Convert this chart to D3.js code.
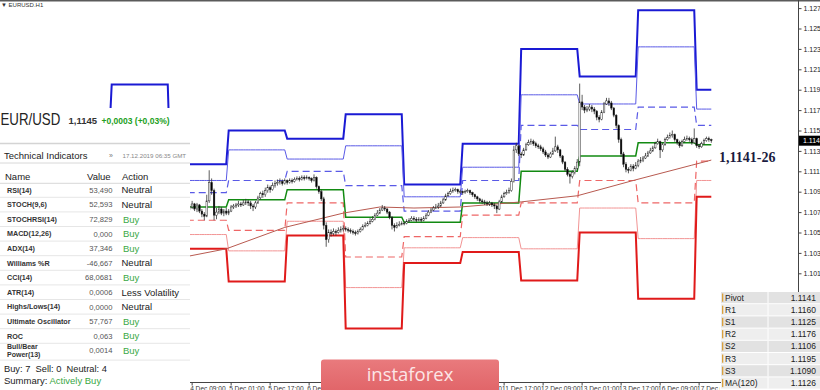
<!DOCTYPE html>
<html>
<head>
<meta charset="utf-8">
<title>EURUSD H1</title>
<script src="https://d3js.org/d3.v7.min.js"></script>
<style>
    body { margin: 0; background: #fff; }
    svg { display: block; font-family: "Liberation Sans", Arial, sans-serif; }
</style>
</head>
<body>
<svg id="chart" width="820" height="390"></svg>
<script>
// Trading days shown (H1 bars, 24 per day) and their daily pivot levels
var days = ["2 Dec", "3 Dec", "4 Dec", "5 Dec", "6 Dec", "9 Dec", "10 Dec", "11 Dec", "12 Dec", "13 Dec", "16 Dec", "17 Dec"];
var r3 = [1.1150, 1.1200, 1.1122, 1.1155, 1.1147, 1.1171, 1.1102, 1.1142, 1.1235, 1.1208, 1.1273, 1.1195];
var r2 = [1.1128, 1.1165, 1.1106, 1.1136, 1.1127, 1.1140, 1.1090, 1.1119, 1.1190, 1.1181, 1.1237, 1.1176];
var r1 = [1.1110, 1.1130, 1.1094, 1.1106, 1.1115, 1.1101, 1.1076, 1.1106, 1.1160, 1.1156, 1.1178, 1.1160];
var pivot = [1.1090, 1.1098, 1.1080, 1.1087, 1.1097, 1.1070, 1.1065, 1.1084, 1.1115, 1.1130, 1.1143, 1.1141];
var s1 = [1.1072, 1.1063, 1.1067, 1.1057, 1.1084, 1.1031, 1.1051, 1.1072, 1.1084, 1.1106, 1.1084, 1.1125];
var s2 = [1.1050, 1.1031, 1.1053, 1.1037, 1.1066, 1.1001, 1.1040, 1.1050, 1.1039, 1.1079, 1.1049, 1.1106];
var s3 = [1.1032, 1.0996, 1.1039, 1.1007, 1.1052, 1.0961, 1.1025, 1.1036, 1.1008, 1.1055, 1.0990, 1.1090];
var barsPerDay = 24;
var lastBar = 270;      // 17 Dec 06:00
var firstCandle = 56;   // 4 Dec 08:00

// Candles from 4 Dec 08:00, one line per day
var opens = [
    1.1079,1.1080,1.1083,1.1078,1.1082,1.1076,1.1073,1.1071,1.1086,1.1104,1.1096,1.1072,1.1075,1.1078,1.1074,1.1076,
    1.1074,1.1076,1.1080,1.1081,1.1082,1.1083,1.1082,1.1084,1.1085,1.1084,1.1081,1.1080,1.1084,1.1089,1.1093,1.1092,1.1096,1.1099,1.1097,1.1101,1.1103,1.1104,1.1105,1.1103,
    1.1106,1.1104,1.1106,1.1105,1.1107,1.1108,1.1107,1.1109,1.1108,1.1109,1.1108,1.1106,1.1109,1.1100,1.1095,1.1088,1.1062,1.1048,1.1055,1.1054,1.1056,1.1055,1.1057,1.1058,
    1.1059,1.1058,1.1057,1.1056,1.1055,1.1054,1.1056,1.1058,1.1061,1.1062,1.1064,1.1066,1.1068,1.1072,1.1074,1.1077,1.1079,1.1078,1.1075,1.1070,1.1062,1.1060,1.1062,1.1063,
    1.1064,1.1064,1.1066,1.1067,1.1069,1.1068,1.1067,1.1068,1.1067,1.1069,1.1072,1.1075,1.1077,1.1079,1.1080,1.1081,1.1084,1.1087,1.1091,1.1093,1.1095,1.1096,1.1097,1.1095,
    1.1095,1.1094,1.1095,1.1096,1.1094,1.1092,1.1090,1.1088,1.1086,1.1085,1.1084,1.1083,1.1084,1.1082,1.1081,1.1078,1.1085,1.1090,1.1093,1.1094,1.1096,1.1105,1.1136,1.1140,
    1.1132,1.1131,1.1136,1.1141,1.1143,1.1144,1.1142,1.1140,1.1139,1.1137,1.1134,1.1131,1.1129,1.1132,1.1135,1.1139,1.1136,1.1130,1.1124,1.1117,1.1112,1.1110,1.1114,1.1118,
    1.1124,1.1183,1.1178,1.1175,1.1176,1.1178,1.1176,1.1174,1.1168,1.1166,1.1173,1.1181,1.1184,1.1182,1.1177,1.1170,1.1160,1.1146,1.1132,1.1122,1.1117,1.1116,1.1120,1.1118,
    1.1121,1.1125,1.1126,1.1128,1.1130,1.1133,1.1135,1.1138,1.1142,1.1144,1.1136,1.1141,1.1146,1.1148,1.1150,1.1151,1.1146,1.1143,1.1140,1.1144,1.1146,1.1147,1.1146,1.1143,
    1.1147,1.1140,1.1139,1.1142,1.1145,1.1147,1.1146
];
var highs = [
    1.1083,1.1086,1.1084,1.1084,1.1083,1.1078,1.1075,1.1092,1.1116,1.1108,1.1098,1.1079,1.1081,1.1080,1.1078,1.1079,
    1.1078,1.1082,1.1083,1.1084,1.1086,1.1085,1.1087,1.1088,1.1087,1.1086,1.1083,1.1086,1.1091,1.1095,1.1096,1.1099,1.1102,1.1101,1.1104,1.1106,1.1107,1.1108,1.1107,1.1108,
    1.1107,1.1108,1.1108,1.1109,1.1110,1.1110,1.1111,1.1111,1.1111,1.1110,1.1109,1.1112,1.1110,1.1101,1.1097,1.1090,1.1065,1.1058,1.1058,1.1059,1.1058,1.1060,1.1061,1.1062,
    1.1061,1.1060,1.1059,1.1058,1.1057,1.1058,1.1060,1.1063,1.1065,1.1066,1.1069,1.1071,1.1074,1.1077,1.1079,1.1082,1.1081,1.1079,1.1076,1.1071,1.1064,1.1065,1.1066,1.1066,
    1.1066,1.1068,1.1069,1.1071,1.1071,1.1070,1.1070,1.1070,1.1071,1.1074,1.1077,1.1079,1.1081,1.1083,1.1084,1.1086,1.1089,1.1093,1.1095,1.1098,1.1099,1.1099,1.1098,1.1097,
    1.1096,1.1097,1.1098,1.1097,1.1095,1.1093,1.1091,1.1089,1.1088,1.1087,1.1086,1.1086,1.1085,1.1084,1.1082,1.1087,1.1092,1.1095,1.1097,1.1099,1.1108,1.1140,1.1143,1.1141,
    1.1134,1.1138,1.1143,1.1146,1.1147,1.1146,1.1144,1.1142,1.1141,1.1139,1.1136,1.1133,1.1134,1.1138,1.1149,1.1141,1.1137,1.1131,1.1125,1.1119,1.1114,1.1116,1.1120,1.1127,
    1.1201,1.1190,1.1180,1.1179,1.1181,1.1180,1.1178,1.1175,1.1170,1.1175,1.1183,1.1187,1.1187,1.1184,1.1178,1.1171,1.1161,1.1148,1.1134,1.1124,1.1119,1.1122,1.1122,1.1124,
    1.1127,1.1129,1.1130,1.1133,1.1135,1.1138,1.1140,1.1144,1.1147,1.1145,1.1143,1.1148,1.1151,1.1153,1.1155,1.1152,1.1147,1.1145,1.1146,1.1149,1.1150,1.1149,1.1148,1.1157,
    1.1148,1.1142,1.1144,1.1147,1.1149,1.1149,1.1147
];
var lows = [
    1.1077,1.1078,1.1076,1.1075,1.1074,1.1070,1.1067,1.1070,1.1084,1.1092,1.1067,1.1068,1.1073,1.1072,1.1071,1.1072,
    1.1072,1.1075,1.1078,1.1079,1.1080,1.1080,1.1081,1.1082,1.1081,1.1078,1.1076,1.1078,1.1083,1.1087,1.1089,1.1090,1.1094,1.1094,1.1096,1.1099,1.1101,1.1102,1.1101,1.1102,
    1.1102,1.1103,1.1103,1.1104,1.1106,1.1105,1.1106,1.1106,1.1107,1.1106,1.1104,1.1105,1.1098,1.1093,1.1086,1.1058,1.1041,1.1045,1.1051,1.1052,1.1052,1.1054,1.1055,1.1056,
    1.1056,1.1055,1.1054,1.1053,1.1052,1.1053,1.1055,1.1057,1.1060,1.1061,1.1063,1.1065,1.1067,1.1071,1.1073,1.1076,1.1076,1.1073,1.1068,1.1058,1.1056,1.1059,1.1061,1.1062,
    1.1062,1.1063,1.1065,1.1066,1.1066,1.1065,1.1066,1.1065,1.1066,1.1068,1.1071,1.1074,1.1076,1.1078,1.1078,1.1080,1.1083,1.1086,1.1090,1.1092,1.1094,1.1095,1.1093,1.1093,
    1.1092,1.1093,1.1094,1.1092,1.1090,1.1088,1.1086,1.1084,1.1083,1.1082,1.1081,1.1081,1.1080,1.1078,1.1074,1.1077,1.1084,1.1089,1.1092,1.1093,1.1095,1.1104,1.1133,1.1130,
    1.1128,1.1130,1.1135,1.1140,1.1141,1.1140,1.1138,1.1137,1.1135,1.1132,1.1129,1.1127,1.1128,1.1131,1.1134,1.1133,1.1128,1.1122,1.1115,1.1110,1.1103,1.1108,1.1112,1.1116,
    1.1120,1.1175,1.1172,1.1173,1.1174,1.1173,1.1171,1.1165,1.1163,1.1165,1.1172,1.1180,1.1179,1.1175,1.1168,1.1157,1.1143,1.1129,1.1119,1.1114,1.1113,1.1115,1.1115,1.1117,
    1.1119,1.1123,1.1124,1.1127,1.1129,1.1132,1.1134,1.1137,1.1141,1.1128,1.1134,1.1140,1.1145,1.1147,1.1148,1.1144,1.1141,1.1138,1.1139,1.1143,1.1145,1.1144,1.1141,1.1142,
    1.1138,1.1137,1.1138,1.1141,1.1144,1.1144,1.1143
];
var closes = [
    1.1080,1.1083,1.1078,1.1082,1.1076,1.1073,1.1071,1.1086,1.1104,1.1096,1.1072,1.1075,1.1078,1.1074,1.1076,1.1074,
    1.1076,1.1080,1.1081,1.1082,1.1083,1.1082,1.1084,1.1085,1.1084,1.1081,1.1080,1.1084,1.1089,1.1093,1.1092,1.1096,1.1099,1.1097,1.1101,1.1103,1.1104,1.1105,1.1103,1.1106,
    1.1104,1.1106,1.1105,1.1107,1.1108,1.1107,1.1109,1.1108,1.1109,1.1108,1.1106,1.1109,1.1100,1.1095,1.1088,1.1062,1.1048,1.1055,1.1054,1.1056,1.1055,1.1057,1.1058,1.1059,
    1.1058,1.1057,1.1056,1.1055,1.1054,1.1056,1.1058,1.1061,1.1062,1.1064,1.1066,1.1068,1.1072,1.1074,1.1077,1.1079,1.1078,1.1075,1.1070,1.1062,1.1060,1.1062,1.1063,1.1064,
    1.1064,1.1066,1.1067,1.1069,1.1068,1.1067,1.1068,1.1067,1.1069,1.1072,1.1075,1.1077,1.1079,1.1080,1.1081,1.1084,1.1087,1.1091,1.1093,1.1095,1.1096,1.1097,1.1095,1.1095,
    1.1094,1.1095,1.1096,1.1094,1.1092,1.1090,1.1088,1.1086,1.1085,1.1084,1.1083,1.1084,1.1082,1.1081,1.1078,1.1085,1.1090,1.1093,1.1094,1.1096,1.1105,1.1136,1.1140,1.1132,
    1.1131,1.1136,1.1141,1.1143,1.1144,1.1142,1.1140,1.1139,1.1137,1.1134,1.1131,1.1129,1.1132,1.1135,1.1139,1.1136,1.1130,1.1124,1.1117,1.1112,1.1110,1.1114,1.1118,1.1124,
    1.1183,1.1178,1.1175,1.1176,1.1178,1.1176,1.1174,1.1168,1.1166,1.1173,1.1181,1.1184,1.1182,1.1177,1.1170,1.1160,1.1146,1.1132,1.1122,1.1117,1.1116,1.1120,1.1118,1.1121,
    1.1125,1.1126,1.1128,1.1130,1.1133,1.1135,1.1138,1.1142,1.1144,1.1136,1.1141,1.1146,1.1148,1.1150,1.1151,1.1146,1.1143,1.1140,1.1144,1.1146,1.1147,1.1146,1.1143,1.1147,
    1.1140,1.1139,1.1142,1.1145,1.1147,1.1146,1.1145
];

// MA(120) at a few bars
var maBars = [50, 56, 71, 95, 119, 134, 148, 167, 192, 215, 238, 262, 270];
var maValues = [1.1030, 1.1032, 1.1039, 1.1060, 1.1074, 1.1080, 1.1079, 1.1080, 1.1085, 1.1091, 1.1106, 1.1121, 1.1126];

// Axis ticks
var yTicks = [1.1275, 1.1255, 1.1235, 1.1215, 1.1195, 1.1175, 1.1155, 1.1135, 1.1115, 1.1095, 1.1075, 1.1055, 1.1035, 1.1015];
var xTickBars = [57, 73, 89, 105, 121, 137, 153, 169, 185, 201, 217, 233, 249, 265];
var xTickLabels = ["4 Dec 09:00", "5 Dec 01:00", "5 Dec 17:00", "6 Dec 09:00", "9 Dec 01:00", "9 Dec 17:00", "10 Dec 09:00",
    "11 Dec 01:00", "11 Dec 17:00", "12 Dec 09:00", "13 Dec 01:00", "13 Dec 17:00", "16 Dec 09:00", "17 Dec 01:00"];
var lastPrice = 1.1145;

// Technical indicators panel
var indNames = ["RSI(14)", "STOCH(9,6)", "STOCHRSI(14)", "MACD(12,26)", "ADX(14)", "Williams %R", "CCI(14)", "ATR(14)",
    "Highs/Lows(14)", "Ultimate Oscillator", "ROC", "Bull/Bear Power(13)"];
var indValues = ["53,490", "52,593", "72,829", "0,000", "37,346", "-46,667", "68,0681", "0,0006", "0,0000", "57,767", "0,063", "0,0014"];
var indActions = ["Neutral", "Neutral", "Buy", "Buy", "Buy", "Neutral", "Buy", "Less Volatility", "Neutral", "Buy", "Buy", "Buy"];

// Pivot table, bottom right
var tableLabels = ["Pivot", "R1", "S1", "R2", "S2", "R3", "S3", "MA(120)"];
var tableValues = ["1.1141", "1.1160", "1.1125", "1.1176", "1.1106", "1.1195", "1.1090", "1.1126"];

var green = "#3aa845";
var svg = d3.select("#chart");

var x = d3.scaleLinear().domain([0, lastBar]).range([53.2, 711.3]);
var y = d3.scaleLinear().domain([1.1095, 1.1275]).range([191.7, 8.1]);

// top border
svg.append("rect").attr("x", 0).attr("y", 0).attr("width", 820).attr("height", 1.5).attr("fill", "#5a5a5a");

// Pivot levels, drawn bar by bar so the day changes show as slanted steps
var levels = [
    {data: r3, color: "#1a1ad4", width: 2, dash: null},
    {data: r2, color: "#5a5ae6", width: 1, dash: null},
    {data: r1, color: "#5a5ae6", width: 1.2, dash: "7,4"},
    {data: s1, color: "#ee6666", width: 1.2, dash: "7,4"},
    {data: s2, color: "#f29494", width: 1, dash: null},
    {data: s3, color: "#e01a1a", width: 2, dash: null},
    {data: pivot, color: "#128a12", width: 1.5, dash: null}
];
var allBars = d3.range(0, lastBar + 1);

levels.forEach(function (lv) {
    var line = d3.line()
        .x(function (i) { return x(i); })
        .y(function (i) { return y(lv.data[Math.floor(i / barsPerDay)]); });
    svg.append("path")
        .attr("d", line(allBars))
        .attr("fill", "none")
        .attr("stroke", lv.color)
        .attr("stroke-width", lv.width)
        .attr("stroke-dasharray", lv.dash);
});

// Moving average
var maLine = d3.line()
    .x(function (d, i) { return x(maBars[i]); })
    .y(function (d) { return y(d); });
svg.append("path")
    .attr("d", maLine(maValues))
    .attr("fill", "none")
    .attr("stroke", "#b85a50")
    .attr("stroke-width", 1);

// Candles
var candles = svg.append("g").attr("class", "candles");
var idx = d3.range(closes.length);

candles.selectAll("line").data(idx).enter().append("line")
    .attr("x1", function (i) { return x(firstCandle + i); })
    .attr("x2", function (i) { return x(firstCandle + i); })
    .attr("y1", function (i) { return y(highs[i]); })
    .attr("y2", function (i) { return y(lows[i]); })
    .attr("stroke", "#333")
    .attr("stroke-width", 0.8);

candles.selectAll("rect").data(idx).enter().append("rect")
    .attr("x", function (i) { return x(firstCandle + i) - 0.8; })
    .attr("width", 1.6)
    .attr("y", function (i) { return y(Math.max(opens[i], closes[i])); })
    .attr("height", function (i) { return Math.max(0.6, Math.abs(y(opens[i]) - y(closes[i]))); })
    .attr("fill", function (i) { return closes[i] >= opens[i] ? "#fff" : "#000"; })
    .attr("stroke", "#222")
    .attr("stroke-width", 0.45);

// Level caption
svg.append("text")
    .attr("x", 719).attr("y", 162)
    .attr("font-family", "'Liberation Serif', 'Times New Roman', serif")
    .attr("font-weight", "bold")
    .attr("font-size", 14)
    .attr("fill", "#1b1b40")
    .text("1,1141-26");

// Price axis on the right
svg.append("line").attr("x1", 798.5).attr("x2", 798.5).attr("y1", 0).attr("y2", 382).attr("stroke", "#444");
var yAxis = d3.axisRight(y).tickValues(yTicks).tickSize(3).tickPadding(2).tickFormat(d3.format(".4f"));
var yg = svg.append("g").attr("transform", "translate(798.5,0)").call(yAxis);
yg.select(".domain").remove();
yg.selectAll("text").attr("font-size", 7).attr("font-family", "'Liberation Sans', Arial, sans-serif").attr("fill", "#222");
yg.selectAll("line").attr("stroke", "#444");

// current price marker
svg.append("rect").attr("x", 799).attr("y", y(lastPrice) - 5).attr("width", 21).attr("height", 10).attr("fill", "#000");
svg.append("text").attr("x", 803).attr("y", y(lastPrice) + 2.5)
    .attr("font-size", 7).attr("fill", "#fff").text(d3.format(".4f")(lastPrice));

// Time axis at the bottom
svg.append("line").attr("x1", 0).attr("x2", 798.5).attr("y1", 382.5).attr("y2", 382.5).attr("stroke", "#444");
var xclip = svg.append("clipPath").attr("id", "xaxis-clip");
xclip.append("rect").attr("x", 0).attr("y", 380).attr("width", 720).attr("height", 10);
var xt = svg.append("g").attr("clip-path", "url(#xaxis-clip)")
    .selectAll("g").data(xTickBars).enter().append("g");
xt.append("line")
    .attr("x1", function (d) { return x(d); }).attr("x2", function (d) { return x(d); })
    .attr("y1", 382.5).attr("y2", 385.5).attr("stroke", "#444");
xt.append("text")
    .attr("x", function (d) { return x(d) - 2; })
    .attr("y", 390.5)
    .attr("font-size", 6.6)
    .attr("fill", "#333")
    .text(function (d, i) { return xTickLabels[i]; });

// chart title top left
svg.append("text").attr("x", 1).attr("y", 7).attr("font-size", 6).attr("fill", "#333").text("\u25BC EURUSD.H1");

// ---- Left info panel ----
var clip = svg.append("clipPath").attr("id", "panel-clip");
clip.append("rect").attr("x", 0).attr("y", 0).attr("width", 190).attr("height", 390);
var panel = svg.append("g").attr("clip-path", "url(#panel-clip)");

panel.append("rect").attr("x", 0).attr("y", 108).attr("width", 190).attr("height", 282).attr("fill", "#fff");

// symbol title, a bit taller than wide like the original
panel.append("text")
    .attr("transform", "translate(0.5,125) scale(1,1.2)")
    .attr("font-size", 13.3).attr("fill", "#222")
    .text("EUR/USD");
panel.append("text").attr("x", 68.5).attr("y", 123.5)
    .attr("font-size", 9.5).attr("font-weight", "bold").attr("fill", "#333").text("1,1145");
panel.append("text").attr("x", 101.5).attr("y", 123.5)
    .attr("font-size", 8.5).attr("font-weight", "bold").attr("fill", "#22a022").text("+0,0003 (+0,03%)");

panel.append("line").attr("x1", 0).attr("x2", 190).attr("y1", 143.5).attr("y2", 143.5).attr("stroke", "#d4d4d4").attr("stroke-width", 1.5);

panel.append("text").attr("x", 4).attr("y", 158.5).attr("font-size", 9.5).attr("fill", "#222").text("Technical Indicators");
panel.append("text").attr("x", 109).attr("y", 158).attr("font-size", 7).attr("fill", "#777").text("\u00BB");
panel.append("text").attr("x", 122.5).attr("y", 157.5).attr("font-size", 6.2).attr("fill", "#888").text("17.12.2019 06:35 GMT");

panel.append("line").attr("x1", 0).attr("x2", 190).attr("y1", 163).attr("y2", 163).attr("stroke", "#d8d8d8");

// table header
panel.append("text").attr("x", 5).attr("y", 180).attr("font-size", 9.5).attr("fill", "#222").text("Name");
panel.append("text").attr("x", 87).attr("y", 180).attr("font-size", 9.5).attr("fill", "#222").text("Value");
panel.append("text").attr("x", 122).attr("y", 180).attr("font-size", 9.5).attr("fill", "#222").text("Action");
panel.append("line").attr("x1", 0).attr("x2", 190).attr("y1", 183.3).attr("y2", 183.3).attr("stroke", "#d8d8d8");

var rowPitch = 14.6;
var rows = panel.selectAll("g.row").data(indNames).enter().append("g").attr("class", "row")
    .attr("transform", function (d, i) { return "translate(0," + (190 + i * rowPitch) + ")"; });

rows.each(function (name, i) {
    var row = d3.select(this);
    var parts = name.split(" Power");
    if (parts.length > 1) {
        row.append("text").attr("x", 7).attr("y", -1.3).attr("font-size", 7).attr("font-weight", "bold").attr("fill", "#333").text(parts[0]);
        row.append("text").attr("x", 7).attr("y", 6.3).attr("font-size", 7).attr("font-weight", "bold").attr("fill", "#333").text("Power" + parts[1]);
    } else {
        row.append("text").attr("x", 7).attr("y", 2.6).attr("font-size", 7.2).attr("font-weight", "bold").attr("fill", "#333").text(name);
    }
    row.append("text").attr("x", 112.5).attr("y", 2.8).attr("text-anchor", "end")
        .attr("font-size", 7.6).attr("fill", "#555").text(indValues[i]);
    var act = indActions[i];
    row.append("text").attr("x", act == "Buy" ? 123 : 121.5).attr("y", 3.3)
        .attr("font-size", 9.5).attr("fill", act == "Buy" ? green : "#222").text(act);
    var sepY = (i == indNames.length - 1) ? 9.5 : 7.3;
    row.append("line").attr("x1", 0).attr("x2", 190).attr("y1", sepY).attr("y2", sepY).attr("stroke", "#e6e6e6");
});

panel.append("text").attr("x", 4).attr("y", 371.5).attr("font-size", 9.3).attr("fill", "#222")
    .style("white-space", "pre").text("Buy: 7  Sell: 0  Neutral: 4");
var summary = panel.append("text").attr("x", 4).attr("y", 384).attr("font-size", 9.5).attr("fill", "#222");
summary.append("tspan").text("Summary: ");
summary.append("tspan").attr("fill", green).text("Actively Buy");

// ---- watermark ----
var grad = svg.append("defs").append("linearGradient").attr("id", "wm").attr("x1", 0).attr("y1", 0).attr("x2", 0).attr("y2", 1);
grad.append("stop").attr("offset", "0%").attr("stop-color", "#e97a7d");
grad.append("stop").attr("offset", "100%").attr("stop-color", "#e06266");
svg.append("rect").attr("x", 321).attr("y", 359.5).attr("width", 178).attr("height", 36).attr("rx", 3)
    .attr("fill", "url(#wm)");
svg.append("text").attr("x", 410).attr("y", 380.5).attr("text-anchor", "middle")
    .attr("font-family", "'Open Sans', sans-serif").attr("font-size", 18.5).attr("fill", "#fce6e6")
    .text("instaforex");

// ---- pivot table bottom right ----
var tRowH = 12.2;
var table = svg.append("g").attr("transform", "translate(721,292)");
table.append("rect").attr("x", 0).attr("y", 0).attr("width", 99).attr("height", 98).attr("fill", "#fff");
var trows = table.selectAll("g").data(tableLabels).enter().append("g")
    .attr("transform", function (d, i) { return "translate(0," + (i * tRowH) + ")"; });
trows.append("rect").attr("x", 0).attr("y", 0).attr("width", 99).attr("height", tRowH - 1)
    .attr("fill", function (d, i) { return i % 2 == 0 ? "#e2e2e2" : "#eeeeee"; });
trows.append("rect").attr("x", 1).attr("y", 1.5).attr("width", 1.3).attr("height", tRowH - 4).attr("fill", "#d9a03c");
trows.append("line").attr("x1", 47).attr("x2", 47).attr("y1", 0).attr("y2", tRowH - 1).attr("stroke", "#fff");
trows.append("text").attr("x", 4).attr("y", 8.6).attr("font-size", 8.5).attr("fill", "#222").text(function (d) { return d; });
trows.append("text").attr("x", 95).attr("y", 8.6).attr("text-anchor", "end").attr("font-size", 8.5).attr("fill", "#222")
    .text(function (d, i) { return tableValues[i]; });
</script>
</body>
</html>
